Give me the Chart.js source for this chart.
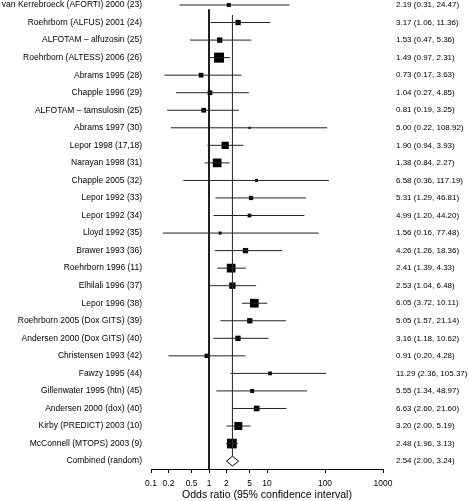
<!DOCTYPE html>
<html>
<head>
<meta charset="utf-8">
<script src="https://cdn.jsdelivr.net/npm/chart.js@4"></script>
<style>
  html, body { margin: 0; padding: 0; background: #fff; }
  canvas { display: block; }
</style>
</head>
<body>
<canvas id="forest" width="469" height="501"></canvas>
<script>
// Studies, top to bottom, as printed on the left.
const STUDIES = [
  "van Kerrebroeck (AFORTI) 2000 (23)",
  "Roehrborn (ALFUS) 2001 (24)",
  "ALFOTAM \u2013 alfuzosin (25)",
  "Roehrborn (ALTESS) 2006 (26)",
  "Abrams 1995 (28)",
  "Chapple 1996 (29)",
  "ALFOTAM \u2013 tamsulosin (25)",
  "Abrams 1997 (30)",
  "Lepor 1998 (17,18)",
  "Narayan 1998 (31)",
  "Chapple 2005 (32)",
  "Lepor 1992 (33)",
  "Lepor 1992 (34)",
  "Lloyd 1992 (35)",
  "Brawer 1993 (36)",
  "Roehrborn 1996 (11)",
  "Elhilali 1996 (37)",
  "Lepor 1996 (38)",
  "Roehrborn 2005 (Dox GITS) (39)",
  "Andersen 2000 (Dox GITS) (40)",
  "Christensen 1993 (42)",
  "Fawzy 1995 (44)",
  "Gillenwater 1995 (htn) (45)",
  "Andersen 2000 (dox) (40)",
  "Kirby (PREDICT) 2003 (10)",
  "McConnell (MTOPS) 2003 (9)",
];

// Odds ratios and 95% CI bounds
const OR = [2.19, 3.17, 1.53, 1.49, 0.73, 1.04, 0.81, 5.00, 1.90, 1.38, 6.58, 5.31, 4.99,
  1.56, 4.26, 2.41, 2.53, 6.05, 5.05, 3.16, 0.91, 11.29, 5.55, 6.63, 3.20, 2.48];
const LOWER = [0.31, 1.06, 0.47, 0.97, 0.17, 0.27, 0.19, 0.22, 0.94, 0.84, 0.36, 1.29, 1.20,
  0.16, 1.26, 1.39, 1.04, 3.72, 1.57, 1.18, 0.20, 2.36, 1.34, 2.60, 2.00, 1.96];
const UPPER = [24.47, 11.36, 5.36, 2.31, 3.63, 4.85, 3.25, 108.92, 3.93, 2.27, 117.19, 46.81, 44.20,
  77.48, 18.36, 4.33, 6.48, 10.11, 21.14, 10.62, 4.28, 105.37, 48.97, 21.60, 5.19, 3.13];

// relative study weight
const WEIGHTS = [1.6, 2.8, 2.8, 10, 2.2, 2.2, 2.2, 0.5, 5.3, 7.6, 0.9, 1.8, 1.4,
  0.9, 2.8, 7.6, 4.0, 7.6, 2.8, 2.8, 1.8, 1.4, 1.6, 3.2, 6.4, 9.4];

const COMBINED_LABEL = "Combined (random)";
const COMBINED = { or: 2.54, lo: 2.00, hi: 3.24 };

const X_TICKS = [0.1, 0.2, 0.5, 1, 2, 5, 10, 100, 1000];
const X_TITLE = "Odds ratio (95% confidence interval)";

const FONT = "'Liberation Sans', Arial, Helvetica, sans-serif";
const N = STUDIES.length;          // combined row sits at index N
const Y_MIN = -0.285, Y_MAX = 26.45;
const DIAMOND_HALF = 0.28;

const fmt = (v) => v.toFixed(2);
const ciText = (o, l, h) => `${fmt(o)} (${fmt(l)}, ${fmt(h)})`;

const leftLabels = [...STUDIES, COMBINED_LABEL];
const rightLabels = STUDIES.map((_, i) => ciText(OR[i], LOWER[i], UPPER[i]))
  .concat(ciText(COMBINED.or, COMBINED.lo, COMBINED.hi));

const datasets = [];

// confidence interval whiskers
STUDIES.forEach((_, i) => {
  datasets.push({
    data: [{ x: LOWER[i], y: i }, { x: UPPER[i], y: i }],
    showLine: true,
    borderColor: "#222",
    borderWidth: 1,
    pointRadius: 0,
  });
});

// reference line at OR = 1 and pooled estimate line
datasets.push({
  data: [{ x: 1, y: 0.25 }, { x: 1, y: Y_MAX }],
  showLine: true, borderColor: "#000", borderWidth: 1, pointRadius: 0,
});
datasets.push({
  data: [{ x: COMBINED.or, y: 0.57 }, { x: COMBINED.or, y: N - DIAMOND_HALF }],
  showLine: true, borderColor: "#333", borderWidth: 1, pointRadius: 0,
});

// study boxes, side ~ sqrt(weight)
datasets.push({
  data: OR.map((v, i) => ({ x: v, y: i })),
  pointStyle: "rect",
  pointRadius: WEIGHTS.map((w) => Math.sqrt(10 * w) / Math.SQRT2),
  backgroundColor: "#000",
  borderWidth: 0,
});

// pooled diamond
datasets.push({
  data: [
    { x: COMBINED.lo, y: N },
    { x: COMBINED.or, y: N - DIAMOND_HALF },
    { x: COMBINED.hi, y: N },
    { x: COMBINED.or, y: N + DIAMOND_HALF },
    { x: COMBINED.lo, y: N },
  ],
  showLine: true,
  fill: false,
  borderColor: "#000",
  borderWidth: 1,
  pointRadius: 0,
});

// white fill behind the diamond outline
const diamondFill = {
  id: "diamondFill",
  beforeDatasetDraw(chart, args) {
    if (args.index !== datasets.length - 1) return;
    const pts = chart.getDatasetMeta(args.index).data;
    const ctx = chart.ctx;
    ctx.save();
    ctx.beginPath();
    pts.forEach((p, k) => (k ? ctx.lineTo(p.x, p.y) : ctx.moveTo(p.x, p.y)));
    ctx.closePath();
    ctx.fillStyle = "#fff";
    ctx.fill();
    ctx.restore();
  },
};

const rowTicks = (axis) => {
  axis.ticks = leftLabels.map((_, i) => ({ value: i }));
};
const fitRows = (width) => (axis) => {
  axis.width = width;
  axis.paddingTop = 0;
  axis.paddingBottom = 0;
};

new Chart(document.getElementById("forest"), {
  type: "scatter",
  data: { datasets },
  plugins: [diamondFill],
  options: {
    responsive: false,
    animation: false,
    layout: { padding: 0, autoPadding: false },
    plugins: { legend: { display: false }, tooltip: { enabled: false } },
    scales: {
      x: {
        type: "logarithmic",
        min: 0.1,
        max: 1000,
        afterBuildTicks: (axis) => { axis.ticks = X_TICKS.map((v) => ({ value: v })); },
        afterFit: (axis) => { axis.height = 32; },
        grid: { display: true, drawOnChartArea: false, drawTicks: true, tickLength: 4, color: "#000" },
        border: { display: true, color: "#000", width: 1 },
        ticks: {
          autoSkip: false,
          maxRotation: 0,
          padding: 6,
          color: "#000",
          font: { family: FONT, size: 8.5 },
          callback: (v) => String(v),
        },
        title: {
          display: true,
          text: X_TITLE,
          color: "#000",
          padding: { top: 0, bottom: 0 },
          font: { family: FONT, size: 10.5 },
        },
      },
      y: {
        type: "linear",
        position: "left",
        reverse: true,
        min: Y_MIN,
        max: Y_MAX,
        afterBuildTicks: rowTicks,
        afterFit: fitRows(151),
        grid: { display: false, drawTicks: false },
        border: { display: false },
        ticks: {
          autoSkip: false,
          padding: 9,
          color: "#000",
          font: { family: FONT, size: 8.5 },
          callback: (v) => leftLabels[v],
        },
      },
      y2: {
        type: "linear",
        position: "right",
        reverse: true,
        min: Y_MIN,
        max: Y_MAX,
        afterBuildTicks: rowTicks,
        afterFit: fitRows(86),
        grid: { display: false, drawTicks: false },
        border: { display: false },
        ticks: {
          autoSkip: false,
          padding: 13,
          color: "#000",
          font: { family: FONT, size: 8 },
          callback: (v) => rightLabels[v],
        },
      },
    },
  },
});
</script>
</body>
</html>
